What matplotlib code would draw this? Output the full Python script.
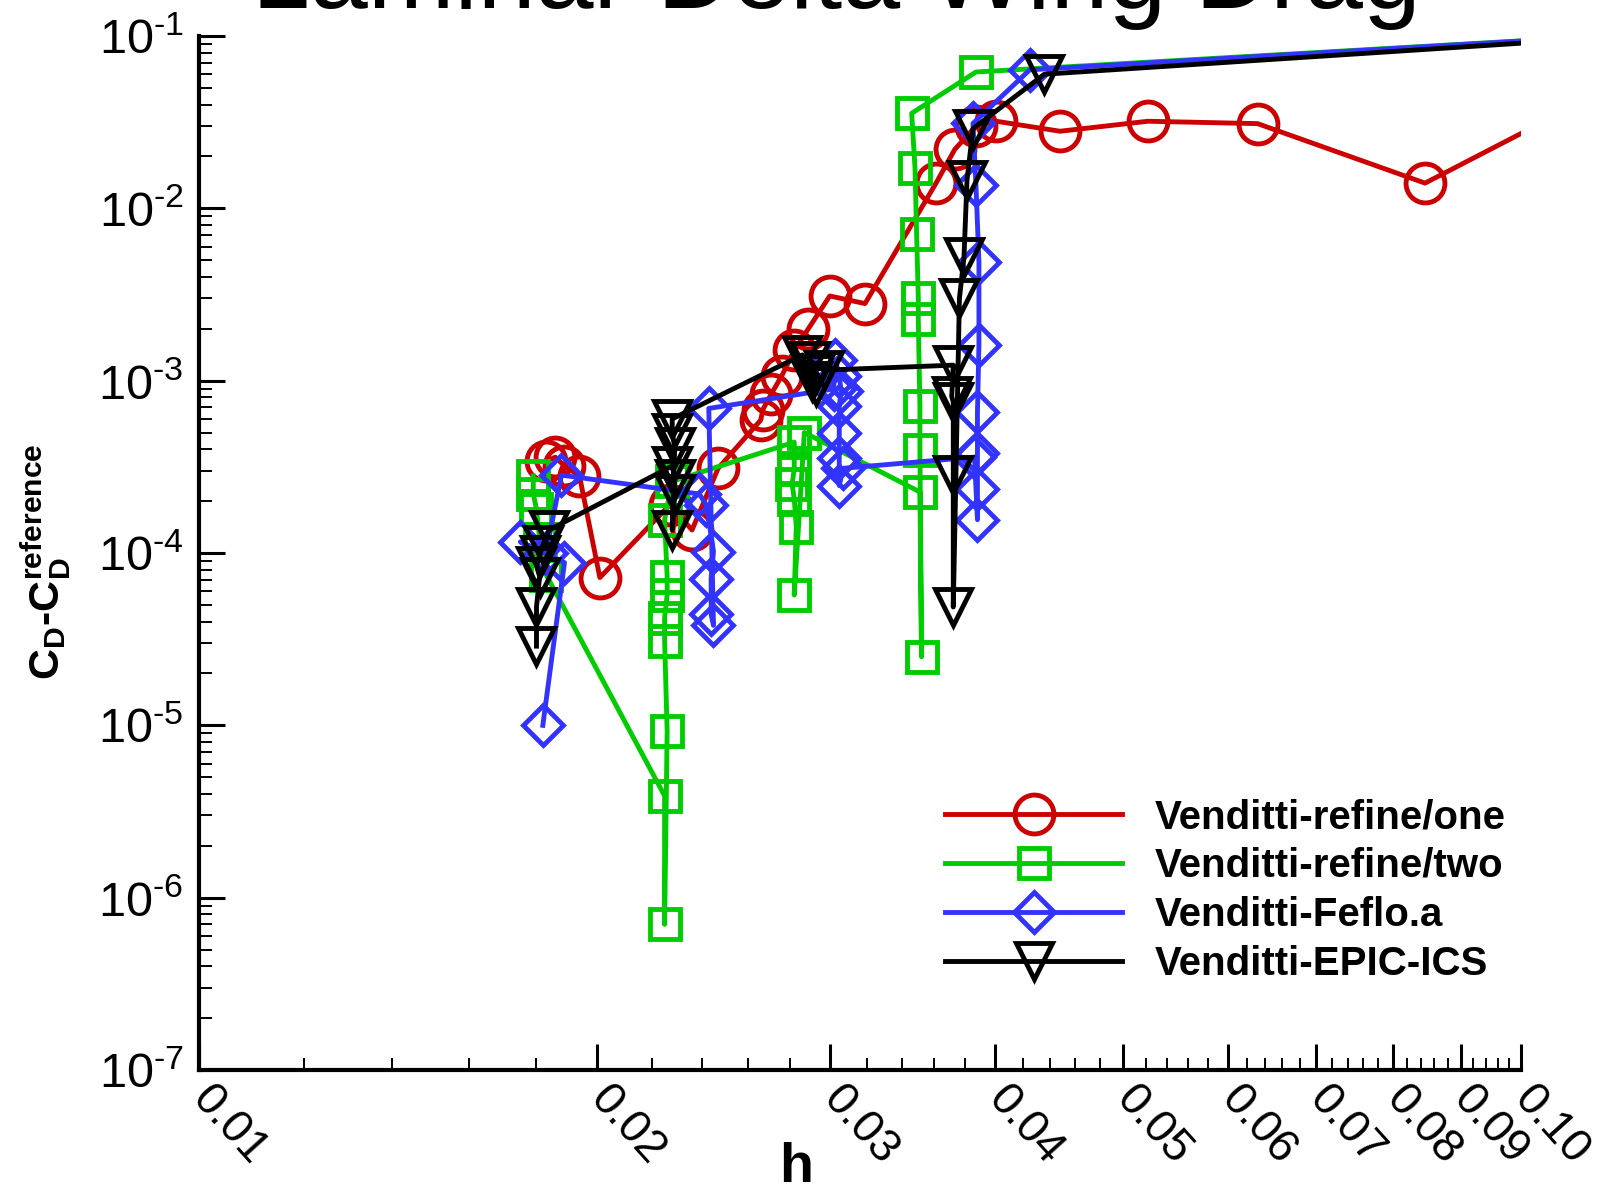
import matplotlib
matplotlib.use("Agg")
import matplotlib.pyplot as plt
from matplotlib.ticker import FixedLocator, NullFormatter

plt.rcParams["font.family"] = ["Liberation Sans", "DejaVu Sans"]
plt.rcParams["mathtext.fontset"] = "custom"
plt.rcParams["mathtext.rm"] = "Liberation Sans"
plt.rcParams["mathtext.bf"] = "Liberation Sans:bold"
plt.rcParams["mathtext.it"] = "Liberation Sans:italic"

# --- data (h vs C_D - C_D^ref) ---
h_one = [0.0183, 0.0186, 0.0189, 0.0194, 0.0201, 0.0227, 0.0236, 0.0247, 0.0266,
         0.0267, 0.0271, 0.0276, 0.0282, 0.0289, 0.0300, 0.0319, 0.0361, 0.0373,
         0.0387, 0.0401, 0.0448, 0.0522, 0.0632, 0.0846, 0.120]
cd_one = [3.4e-4, 3.6e-4, 3.2e-4, 2.8e-4, 7.2e-5, 1.9e-4, 1.36e-4, 3.1e-4, 5.9e-4,
          6.8e-4, 8.4e-4, 1.07e-3, 1.5e-3, 2.0e-3, 3.1e-3, 2.8e-3, 1.4e-2, 2.2e-2,
          3.0e-2, 3.2e-2, 2.8e-2, 3.2e-2, 3.1e-2, 1.4e-2, 5.6e-2]

h_two = [0.0179, 0.0179, 0.0180, 0.0181, 0.0183,
         0.0225, 0.0225, 0.0226, 0.0225, 0.0225, 0.0226, 0.0226, 0.0225, 0.0228,
         0.0282, 0.0282, 0.0281, 0.0282, 0.0283, 0.0282, 0.0287,
         0.0351, 0.0352, 0.0351, 0.0351, 0.0350, 0.0350, 0.0349, 0.0348, 0.0346,
         0.0387, 0.120]
cd_two = [2.8e-4, 2.2e-4, 1.8e-4, 1.2e-4, 7.5e-5,
          3.9e-6, 7.0e-7, 9.3e-6, 3.1e-5, 4.2e-5, 5.7e-5, 7.3e-5, 1.56e-4, 2.6e-4,
          4.4e-4, 3.1e-4, 2.5e-4, 2.06e-4, 1.42e-4, 5.7e-5, 5.0e-4,
          2.26e-4, 2.5e-5, 3.98e-4, 7.1e-4, 2.28e-3, 3.0e-3, 7.05e-3, 1.72e-2, 3.56e-2,
          6.18e-2, 0.1015]

h_feflo = [0.0182, 0.0189, 0.0175, 0.0183, 0.0188,
           0.0239, 0.0242, 0.0245, 0.0244, 0.0244, 0.0245, 0.0243,
           0.0302, 0.0303, 0.0305, 0.0306, 0.0305, 0.0305, 0.0305, 0.0305, 0.0307,
           0.0386, 0.0388, 0.0388, 0.0388, 0.0388, 0.0389, 0.0389, 0.0387, 0.0385,
           0.0425, 0.120]
cd_feflo = [1.0e-5, 8.8e-5, 1.16e-4, 1.0e-4, 2.83e-4,
            2.2e-4, 1.9e-4, 1.02e-4, 7.1e-5, 4.4e-5, 3.8e-5, 6.9e-4,
            8.95e-4, 1.31e-3, 1.07e-3, 8.7e-4, 7.1e-4, 5.0e-4, 3.56e-4, 2.46e-4, 3.1e-4,
            3.6e-4, 1.56e-4, 2.36e-4, 3.82e-4, 6.6e-4, 1.62e-3, 4.86e-3, 1.36e-2, 3.11e-2,
            6.36e-2, 0.1014]

h_epic = [0.0180, 0.0180, 0.0181, 0.0180, 0.0181, 0.0182, 0.0184,
          0.0228, 0.0229, 0.0229, 0.0228, 0.0229, 0.0228, 0.0228,
          0.0286, 0.0291, 0.0293, 0.0292, 0.0290, 0.0297,
          0.0372, 0.0371, 0.0372, 0.0372, 0.0372, 0.0376, 0.0379, 0.0381, 0.0385,
          0.0436, 0.120]
cd_epic = [2.88e-5, 4.86e-5, 7.3e-5, 8.4e-5, 9.7e-5, 1.11e-4, 1.36e-4,
           3.2e-4, 2.7e-4, 2.2e-4, 1.36e-4, 4.1e-4, 5.0e-4, 6.0e-4,
           1.41e-3, 1.0e-3, 9.3e-4, 1.1e-3, 1.3e-3, 1.15e-3,
           1.23e-3, 8.1e-4, 7.5e-4, 2.83e-4, 4.86e-5, 3.0e-3, 5.2e-3, 1.46e-2, 2.9e-2,
           6.0e-2, 0.0995]

labels = ["Venditti-refine/one", "Venditti-refine/two", "Venditti-Feflo.a", "Venditti-EPIC-ICS"]
x_ticks = [0.01, 0.02, 0.03, 0.04, 0.05, 0.06, 0.07, 0.08, 0.09, 0.10]
x_ticklabels = ["0.01", "0.02", "0.03", "0.04", "0.05", "0.06", "0.07", "0.08", "0.09", "0.10"]
y_exps = [-7, -6, -5, -4, -3, -2, -1]

series = [
    (h_one, cd_one, "#CC0000", "o", 28),
    (h_two, cd_two, "#00CC00", "s", 21),
    (h_feflo, cd_feflo, "#3333FF", "D", 20),
    (h_epic, cd_epic, "#000000", "v", 26),
]

fig = plt.figure(figsize=(16.14, 11.95), dpi=100)
ax = fig.add_axes([0.1233, 0.1046, 0.8191, 0.8653])

for (h, cd, color, marker, ms), label in zip(series, labels):
    ax.plot(h, cd, color=color, lw=3.5, marker=marker, ms=ms, mfc="none",
            mec=color, mew=3.5, label=label)

ax.set_xscale("log")
ax.set_yscale("log")
ax.set_xlim(0.01, 0.1)
ax.set_ylim(1e-7, 1e-1)

# Tecplot-like ticks
ax.xaxis.set_major_locator(FixedLocator(x_ticks))
ax.xaxis.set_minor_locator(FixedLocator(
    [k / 1000 for k in range(12, 100, 2) if k % 10 != 0]))
ax.xaxis.set_minor_formatter(NullFormatter())
ax.set_xticklabels(x_ticklabels, rotation=-48, ha="left", va="center",
                   rotation_mode="anchor", fontsize=33)

ax.yaxis.set_major_locator(FixedLocator([10.0 ** e for e in y_exps]))
ax.yaxis.set_minor_locator(FixedLocator(
    [k * 10.0 ** e for e in y_exps[:-1] for k in range(2, 10)]))
ax.yaxis.set_minor_formatter(NullFormatter())
ax.set_yticklabels([r"$\mathregular{10^{\text{-}%d}}$" % -e for e in y_exps], fontsize=35)

ax.tick_params(which="major", direction="in", length=19, width=2.2)
ax.tick_params(which="minor", direction="in", length=9, width=1.4)
ax.tick_params(axis="y", which="major", pad=11)
ax.tick_params(axis="x", which="major", pad=16)

for side in ["top", "right"]:
    ax.spines[side].set_visible(False)
for side in ["left", "bottom"]:
    ax.spines[side].set_linewidth(3)

ax.set_xlabel("h", fontsize=40, fontweight="bold")
ax.xaxis.set_label_coords(0.4516, -0.1195)
ax.xaxis.label.set_va("bottom")
ax.set_ylabel(r"$\mathbf{C_D}$-$\mathbf{C_D^{reference}}$", fontsize=31, fontweight="bold")
ax.yaxis.set_label_coords(-0.116, 0.492)
ax.yaxis.label.set_va("center")

ax.legend(loc="upper left", bbox_to_anchor=(0.5643, 0.263), frameon=False,
          borderpad=0, borderaxespad=0, numpoints=1, handlelength=4.4,
          handletextpad=0.8, labelspacing=0.27,
          prop={"size": 29, "weight": "bold"})

fig.text(0.518, 0.993, "Laminar Delta Wing Drag", ha="center", va="baseline", fontsize=75)

fig.savefig("out.png", dpi=100)
